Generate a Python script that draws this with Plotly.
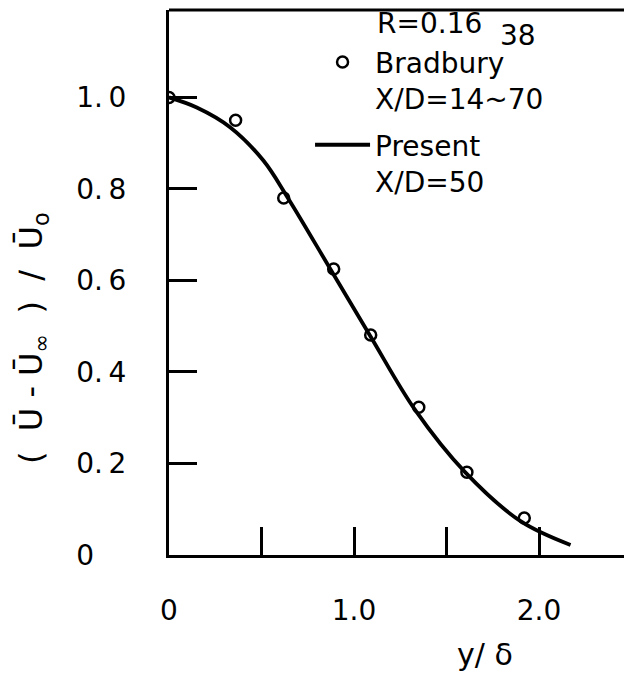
import plotly.graph_objects as go

# Bradbury data (circles)
brad_x = [0.0, 0.36, 0.62, 0.89, 1.09, 1.35, 1.61, 1.92]
brad_y = [1.0, 0.950, 0.780, 0.625, 0.481, 0.323, 0.181, 0.081]

# Present calculation (solid line)
pres_x = [0.0, 0.15, 0.33, 0.51, 0.64, 0.875, 1.09, 1.33, 1.60, 1.90, 2.17]
pres_y = [1.0, 0.978, 0.935, 0.862, 0.782, 0.623, 0.477, 0.317, 0.181, 0.074, 0.022]

x_tickvals = [0, 1.0, 2.0]
x_ticktext = ["0", "1.0", "2.0"]
y_tickvals = [0, 0.2, 0.4, 0.6, 0.8, 1.0]
y_ticktext = ["0\u2008\u2009\u2007", "0.\u20092", "0.\u20094", "0.\u20096", "0.\u20098", "1.\u20090"]

FONT = "DejaVu Sans"
FS = 28
fig = go.Figure()
fig.add_trace(go.Scatter(
    x=brad_x, y=brad_y, mode="markers", name="Bradbury<br>X/D=14~70",
    marker=dict(symbol="circle-open", size=11, color="black", line=dict(width=2.5)),
    legendgroup="a",
))
fig.add_trace(go.Scatter(
    x=pres_x, y=pres_y, mode="lines", name="Present<br>X/D=50",
    line=dict(color="black", width=3.8, shape="spline"),
    legendgroup="b",
))

fig.update_layout(
    width=624, height=679,
    margin=dict(l=169, r=0, t=10, b=124),
    paper_bgcolor="white", plot_bgcolor="white",
    font=dict(family=FONT, size=FS, color="black"),
    showlegend=True,
    legend=dict(x=0.31, y=0.950, xanchor="left", yanchor="top",
                bgcolor="rgba(0,0,0,0)", itemwidth=55, valign="top",
                tracegroupgap=7, font=dict(family=FONT, size=FS, color="black")),
    xaxis=dict(range=[0, 2.459], showgrid=False, zeroline=False,
               showline=True, linecolor="black", linewidth=3,
               ticks="inside", ticklen=28, tickwidth=2.5, tickcolor="black",
               tickvals=x_tickvals, ticktext=x_ticktext, ticklabelstandoff=28,
               minor=dict(ticks="inside", ticklen=28, tickwidth=2.5, tickcolor="black", dtick=0.5, tick0=0),
               tickfont=dict(family=FONT, size=FS, color="black")),
    yaxis=dict(range=[0, 1.191], showgrid=False, zeroline=False,
               showline=True, linecolor="black", linewidth=3,
               ticks="inside", ticklen=28, tickwidth=2.5, tickcolor="black",
               tickvals=y_tickvals, ticktext=y_ticktext, ticklabelstandoff=34,
               tickfont=dict(family=FONT, size=FS, color="black")),
    shapes=[dict(type="line", xref="paper", yref="paper", x0=0, x1=1, y0=1, y1=1,
                 line=dict(color="black", width=3))],
    annotations=[
        dict(text="R=0.16", xref="paper", yref="paper", x=0.453, y=0.976,
             xanchor="left", yanchor="middle", showarrow=False, font=dict(size=FS)),
        dict(text="38", xref="paper", yref="paper", x=0.723, y=0.954,
             xanchor="left", yanchor="middle", showarrow=False, font=dict(size=FS)),
        dict(text="(  Ū - Ū<sub>∞</sub>  )  ∕  Ū<sub>o</sub>", xref="paper", yref="paper",
             x=-0.299, y=0.398, xanchor="center", yanchor="middle", textangle=-90,
             showarrow=False, font=dict(size=32)),
        dict(text="y/ δ", xref="paper", yref="paper", x=0.695, y=-0.183,
             xanchor="center", yanchor="middle", showarrow=False, font=dict(size=30)),
    ],
)
fig.write_html("out.html")
